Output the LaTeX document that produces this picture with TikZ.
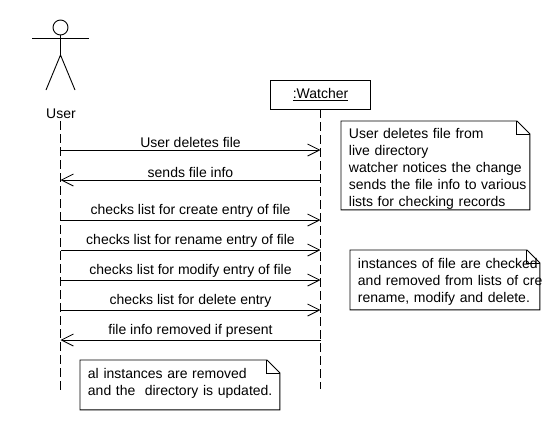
\documentclass[tikz,border=0pt]{standalone}
\usepackage{fontspec}
\setmainfont{Liberation Sans}
\usetikzlibrary{positioning, arrows.meta}
\newcommand{\noteline}[1]{\leavevmode\rlap{#1}}
\begin{document}
\begin{tikzpicture}[x=1pt, y=-1pt, line width=0.9pt,
  every node/.style={inner sep=0pt, font=\fontsize{14}{17}\selectfont},
  lifeline/.style={dash pattern=on 9pt off 4pt},
  msg/.style={-{Straight Barb[length=12pt, width=12pt, line width=0.8pt]}},
  msglabel/.style={above=2pt, midway},
  object/.style={draw, minimum width=100pt, minimum height=29pt},
  note/.style={anchor=north west, align=left, inner xsep=7.5pt}]
\useasboundingbox (0,0) rectangle (556,432);
% actor
\node[draw, circle, minimum size=15pt] (head) at (60.5,27.5) {};
\coordinate (hip) at (60.5,55);
\draw (head) -- (hip);
\draw (32,38) -- (89,38);
\draw (46,90) -- (hip) -- (75,90);
\node (user) at (61,114) {User};
% object and lifelines
\node[object] (watcher) at (320.5,94.5) {\underline{:Watcher}};
\coordinate (userend) at (60.5,391);
\coordinate (watcherend) at (320.5,389);
\draw[lifeline] (60.5,121) -- (userend);
\draw[lifeline] (watcher) -- (watcherend);
% messages
\foreach \nm/\ypos in {a/150, b/180, c/220, d/250, e/280, f/310, g/340} {
  \coordinate (u\nm) at (60.5,\ypos);
  \coordinate (w\nm) at (320.5,\ypos);
}
\draw[msg] (ua) -- node[msglabel] {User deletes file} (wa);
\draw[msg] (wb) -- node[msglabel] {sends file info} (ub);
\draw[msg] (uc) -- node[msglabel] {checks list for create entry of file} (wc);
\draw[msg] (ud) -- node[msglabel] {checks list for rename entry of file} (wd);
\draw[msg] (ue) -- node[msglabel] {checks list for modify entry of file} (we);
\draw[msg] (uf) -- node[msglabel] {checks list for delete entry} (wf);
\draw[msg] (wg) -- node[msglabel] {file info removed if present} (ug);
% notes
\node[note, text height=17pt, text depth=71pt, text width=173pt] (notewatch) at (341,121)
  {\noteline{User deletes file from}\\\noteline{live directory}\\\noteline{watcher notices the change}\\\noteline{sends the file info to various}\\\noteline{lists for checking records}};
\node[note, text height=18pt, text depth=41pt, text width=174pt] (notelists) at (350,250)
  {\noteline{instances of file are checked}\\\noteline{and removed from lists of cre}\\\noteline{rename, modify and delete.}};
\node[note, text height=18pt, text depth=31pt, text width=184pt] (noteuser) at (80,360)
  {\noteline{al instances are removed}\\\noteline{and the\ \ directory is updated.}};
\foreach \nt in {notewatch, notelists, noteuser} {
  \draw (\nt.north west) -- ([xshift=-13pt]\nt.north east) -- ([yshift=-13pt]\nt.north east)
    -- (\nt.south east) -- (\nt.south west) -- cycle;
  \draw ([xshift=-13pt]\nt.north east) -- ([xshift=-13pt,yshift=-13pt]\nt.north east) -- ([yshift=-13pt]\nt.north east);
}
\end{tikzpicture}
\end{document}
